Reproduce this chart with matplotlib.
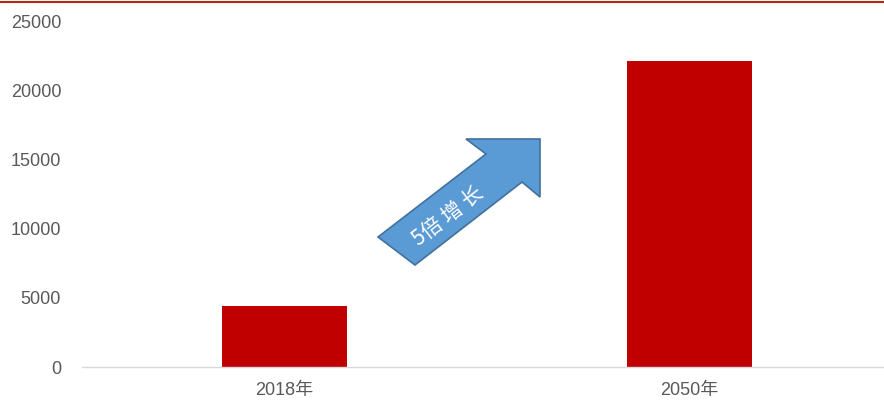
import matplotlib.pyplot as plt
from matplotlib.patches import Polygon

plt.rcParams['font.family'] = ['Liberation Sans', 'Noto Sans CJK SC', 'DejaVu Sans']

years = ["2018年", "2050年"]
values = [4400, 22200]
yticks = [0, 5000, 10000, 15000, 20000, 25000]

fig = plt.figure(figsize=(8.84, 4.01), dpi=100)
ax = fig.add_axes([82 / 884, 34 / 401, 802 / 884, 345 / 401])

ax.bar(range(len(years)), values, width=0.31, color="#C00000")
ax.set_xlim(-0.5, 1.48)
ax.set_ylim(0, 25000)
ax.set_yticks(yticks)
ax.set_xticks(range(len(years)))
ax.set_xticklabels(years)
ax.tick_params(axis="both", length=0, colors="#595959", labelsize=13)
ax.tick_params(axis="y", pad=15)
ax.tick_params(axis="x", pad=11)
for s in ["top", "right", "left"]:
    ax.spines[s].set_visible(False)
ax.spines["bottom"].set_color("#D9D9D9")
ax.spines["bottom"].set_linewidth(1)

# thin rule along the top edge
fig.add_artist(plt.Line2D([0, 1], [1 - 1.5 / 401, 1 - 1.5 / 401],
                          transform=fig.transFigure, color="#B22A0E", lw=1.5))

# growth arrow (pixel positions, y measured from top)
pts = [(378, 237), (486, 154), (466, 139), (540, 139), (540, 197),
       (522, 182), (415, 265)]
arrow = Polygon([(x / 884, 1 - y / 401) for x, y in pts], closed=True,
                transform=fig.transFigure, facecolor="#5B9BD5",
                edgecolor="#41719C", lw=1.2)
fig.add_artist(arrow)
fig.text(448 / 884, 1 - 216 / 401, "5倍 增 长", color="white", fontsize=15,
         family=['Noto Sans CJK SC', 'DejaVu Sans'],
         rotation=37.5, ha="center", va="center", rotation_mode="anchor")

fig.savefig("out.png", dpi=100)
